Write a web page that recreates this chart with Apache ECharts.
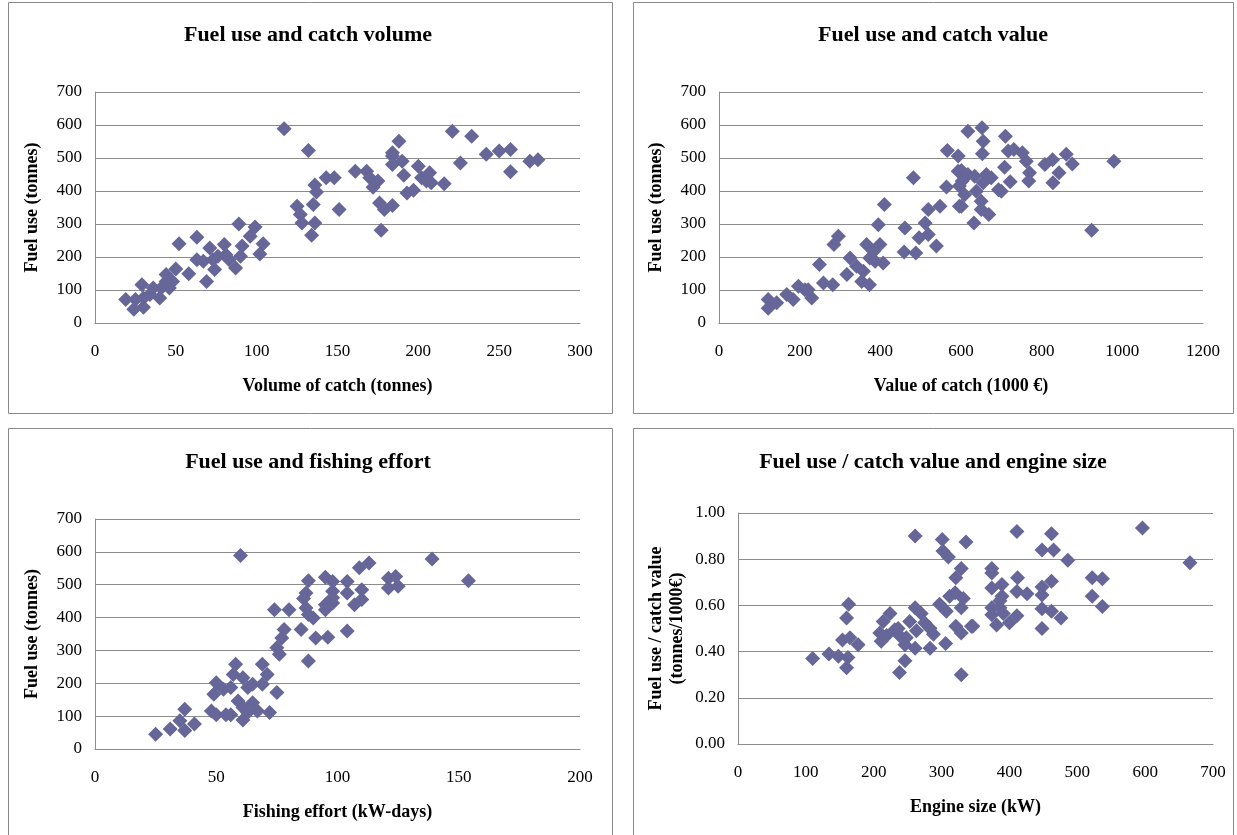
<!DOCTYPE html>
<html>
<head>
<meta charset="utf-8">
<script src="https://cdn.jsdelivr.net/npm/echarts@6/dist/echarts.min.js"></script>
<style>
  html, body { margin: 0; padding: 0; background: #ffffff; }
  #chart { width: 1237px; height: 835px; }
</style>
</head>
<body>
<div id="chart"></div>
<script>
// Vessel observations: [x, y] pairs for each of the four scatter panels.

// Volume of catch (tonnes) vs fuel use (tonnes)
const catchVolumeFuel = [
  [117,589],[132,523],[143,440],[148,440],[136,418],[137,397],[135,359],[151,344],[125,354],[127,329],
  [128,303],[136,303],[134,266],[89,300],[99,291],[96,263],[104,240],[102,209],[91,233],[90,202],
  [80,238],[81,207],[87,167],[71,227],[73,192],[74,162],[63,260],[63,192],[67,187],[58,149],
  [69,126],[52,240],[50,164],[44,147],[46,106],[48,126],[41,106],[40,76],[36,106],[34,86],
  [29,116],[30,76],[25,71],[19,71],[24,42],[30,48],[44,126],[76,202],[83,192],
  [188,551],[184,516],[184,506],[190,490],[184,480],[161,460],[168,460],[170,440],[175,430],[172,411],
  [191,448],[200,475],[207,455],[202,440],[205,430],[208,425],[216,422],[193,394],[197,402],[176,364],
  [184,356],[179,344],[177,281],[221,581],[233,566],[226,485],[242,511],[250,521],[257,526],[257,458],
  [269,490],[274,495]
];

// Value of catch (1000 €) vs fuel use (tonnes)
const catchValueFuel = [
  [122,71],[122,45],[143,61],[168,86],[197,111],[184,71],[213,101],[230,76],[221,101],[249,177],
  [259,121],[282,116],[285,238],[296,263],[317,147],[325,197],[341,172],[354,126],[373,116],[366,238],
  [383,217],[399,238],[395,298],[410,359],[407,182],[387,187],[358,157],[374,197],[461,288],[459,215],
  [488,212],[482,440],[519,344],[511,303],[519,268],[496,258],[539,233],[548,354],[564,412],[566,523],
  [593,506],[593,460],[596,415],[596,354],
  [617,581],[652,592],[655,551],[653,513],[710,566],[717,521],[731,526],[752,516],[762,490],[708,472],
  [770,455],[768,430],[722,428],[693,404],[700,399],[808,480],[827,495],[861,511],[876,482],[843,455],
  [828,425],[979,490],[924,281],[601,462],[617,450],[603,430],[634,445],[663,450],[675,440],[655,425],
  [638,399],[609,389],[601,354],[650,369],[650,344],[669,329],[632,303]
];

// Fishing effort (kW-days) vs fuel use (tonnes)
const effortFuel = [
  [60,589],[88,512],[95,523],[87,475],[86,458],[87,429],[88,409],[90,399],[95,439],[98,444],
  [95,424],[74,424],[80,424],[78,364],[77,338],[75,308],[76,288],[85,364],[91,338],[96,340],
  [88,268],[104,510],[104,475],[104,359],[58,258],[57,227],[61,217],[50,202],[53,182],[49,167],
  [56,187],[63,187],[69,258],[71,227],[69,197],[75,172],[65,197],[59,146],[65,141],[67,116],
  [72,111],[61,126],[61,88],[48,116],[50,104],[56,104],[54,104],[37,121],[35,86],[37,56],
  [41,76],[31,61],[25,45],[63,111],
  [98,510],[98,480],[98,460],[107,439],[110,485],[110,455],[109,552],[113,566],[121,520],[124,525],
  [121,490],[125,495],[139,578],[154,512]
];

// Engine size (kW) vs fuel use per catch value (tonnes/1000€)
const engineFuelPerValue = [
  [110,0.37],[134,0.39],[148,0.38],[160,0.33],[162,0.375],[154,0.45],[165,0.46],[177,0.43],[160,0.545],[163,0.605],
  [224,0.565],[214,0.53],[209,0.48],[219,0.47],[211,0.445],[231,0.495],[238,0.47],[236,0.50],[248,0.46],[246,0.43],
  [253,0.53],[261,0.59],[270,0.565],[263,0.49],[261,0.415],[246,0.36],[238,0.31],[275,0.525],[283,0.50],[288,0.475],
  [283,0.415],[306,0.435],[261,0.90],[301,0.885],[302,0.835],[310,0.81],[336,0.875],[329,0.76],[321,0.72],[312,0.64],
  [320,0.655],[332,0.63],[297,0.605],[307,0.575],[329,0.59],[321,0.51],[329,0.48],[344,0.51],[329,0.30],
  [411,0.92],[462,0.91],[448,0.84],[465,0.84],[486,0.795],[596,0.935],[666,0.785],[374,0.76],[374,0.74],[412,0.72],
  [462,0.705],[448,0.68],[374,0.675],[389,0.69],[411,0.66],[426,0.65],[448,0.645],[389,0.64],[386,0.62],[374,0.59],
  [386,0.59],[374,0.56],[391,0.565],[411,0.555],[381,0.515],[400,0.525],[448,0.585],[462,0.575],[476,0.545],[448,0.50],
  [522,0.72],[537,0.715],[522,0.64],[537,0.595],[346,0.51]
];

const panelTitles = [
  'Fuel use and catch volume',
  'Fuel use and catch value',
  'Fuel use and fishing effort',
  'Fuel use / catch value and engine size'
];
const xNames = ['Volume of catch (tonnes)', 'Value of catch (1000 €)', 'Fishing effort (kW-days)', 'Engine size (kW)'];
const yNames = ['Fuel use (tonnes)', 'Fuel use (tonnes)', 'Fuel use (tonnes)', 'Fuel use / catch value\n(tonnes/1000€)'];
const xRanges = [[0, 300, 50], [0, 1200, 200], [0, 200, 50], [0, 700, 100]];
const yRanges = [[0, 700, 100], [0, 700, 100], [0, 700, 100], [0, 1, 0.2]];
const seriesData = [catchVolumeFuel, catchValueFuel, effortFuel, engineFuelPerValue];

const FONT = '"Liberation Serif", "Times New Roman", serif';
const MARK = '#666699';
const GRID_LINE = '#8c8c8c';

// plot rectangles [left, top, width, height]
const plotBoxes = [
  [95, 92, 485, 231],
  [719, 92, 484, 231],
  [95, 519, 485, 230],
  [738, 513, 475, 231]
];
// panel frames [x, y, w, h] and title centres
const frames = [
  [8.5, 2.5, 604, 411],
  [633.5, 2.5, 600, 411],
  [8.5, 428.5, 604, 412],
  [633.5, 428.5, 600, 412]
];
const titleCentres = [[308, 35], [933, 35], [308, 462], [933, 462]];

const chart = echarts.init(document.getElementById('chart'), null, { renderer: 'canvas' });

const grids = plotBoxes.map(b => ({ left: b[0], top: b[1], width: b[2], height: b[3], containLabel: false }));

const xAxes = xRanges.map((r, i) => ({
  type: 'value', gridIndex: i, min: r[0], max: r[1], interval: r[2],
  name: xNames[i], nameLocation: 'middle', nameGap: 54,
  nameTextStyle: { fontFamily: FONT, fontWeight: 'bold', fontSize: 18, color: '#000' },
  axisLine: { show: true, lineStyle: { color: GRID_LINE, width: 1 } },
  axisTick: { show: false },
  splitLine: { show: false },
  axisLabel: { fontFamily: FONT, fontSize: 17, color: '#000', margin: 20, formatter: v => String(v) }
}));

const yAxes = yRanges.map((r, i) => ({
  type: 'value', gridIndex: i, min: r[0], max: r[1], interval: r[2],
  name: yNames[i], nameLocation: 'middle', nameGap: i === 3 ? 50 : 52, nameRotate: 90,
  nameTextStyle: { fontFamily: FONT, fontWeight: 'bold', fontSize: 18, color: '#000', lineHeight: 21 },
  axisLine: { show: true, lineStyle: { color: GRID_LINE, width: 1 } },
  axisTick: { show: false },
  splitLine: { show: true, lineStyle: { color: GRID_LINE, width: 1 } },
  axisLabel: {
    fontFamily: FONT, fontSize: 17, color: '#000', margin: 13,
    formatter: i === 3 ? (v => v.toFixed(2)) : (v => String(v))
  }
}));

const series = seriesData.map((d, i) => ({
  type: 'scatter', xAxisIndex: i, yAxisIndex: i,
  data: d, symbol: 'diamond', symbolSize: 15,
  itemStyle: { color: MARK, opacity: 1 },
  emphasis: { disabled: true },
  silent: true
}));

const graphics = [];
frames.forEach(f => {
  graphics.push({
    type: 'rect', silent: true, z: -1,
    shape: { x: f[0], y: f[1], width: f[2], height: f[3] },
    style: { fill: 'none', stroke: '#8a8a8a', lineWidth: 1 }
  });
});
titleCentres.forEach((c, i) => {
  graphics.push({
    type: 'text', silent: true,
    x: c[0], y: c[1],
    style: {
      text: panelTitles[i], fill: '#000',
      font: 'bold 22px ' + FONT,
      textAlign: 'center', textVerticalAlign: 'middle'
    }
  });
});

chart.setOption({
  animation: false,
  backgroundColor: '#ffffff',
  grid: grids,
  xAxis: xAxes,
  yAxis: yAxes,
  series: series,
  graphic: graphics
});
</script>
</body>
</html>
